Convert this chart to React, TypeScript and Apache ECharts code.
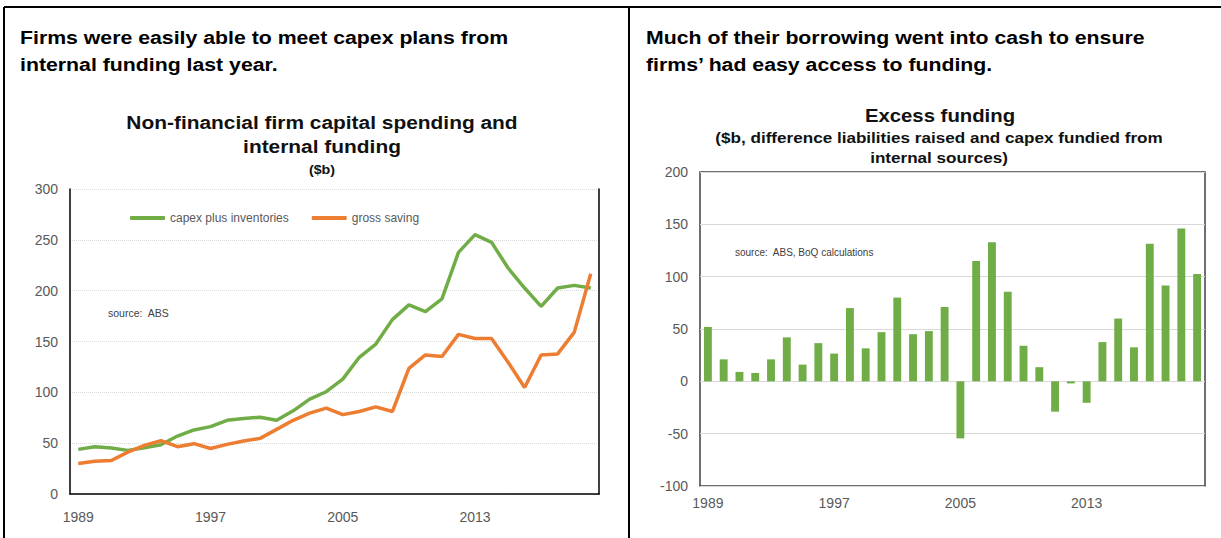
import React, { useEffect, useRef } from "react";
import * as echarts from "echarts";

const years = [
  "1989", "1990", "1991", "1992", "1993", "1994", "1995", "1996",
  "1997", "1998", "1999", "2000", "2001", "2002", "2003", "2004",
  "2005", "2006", "2007", "2008", "2009", "2010", "2011", "2012",
  "2013", "2014", "2015", "2016", "2017", "2018", "2019", "2020",
];

const capexPlusInventories = [
  43.9, 46.5, 45.2, 42.9, 45.5, 48.5, 57, 63,
  66.3, 72.5, 74.2, 75.5, 72.5, 81.8, 93.3, 100.6,
  113, 134.5, 147.5, 171.5, 186, 179.3, 192, 237.7,
  255.1, 247.5, 222.3, 202.6, 184.6, 202.6, 205.2, 202.6,
];

const grossSaving = [
  30, 32.3, 33, 41.2, 47.8, 52.4, 46.5, 49.5,
  44.8, 48.8, 52.1, 54.7, 63.6, 72.5, 79.5, 84.4,
  78.1, 81.1, 85.7, 81.1, 123.6, 136.8, 135.2, 157,
  153, 153, 129.6, 104.8, 136.8, 137.8, 159, 216.7,
];

const excessFunding = [
  52, 21, 9, 8, 21, 42, 16, 36.5,
  26.5, 70, 31.5, 47, 80, 45, 48, 71,
  -54.5, 115, 133, 85.5, 34, 13.5, -29, -2,
  -20.5, 37.5, 60, 32.5, 131.5, 91.5, 146, 102.5,
];

const leftAxisRange = { min: 0, max: 300, interval: 50 };
const rightAxisRange = { min: -100, max: 200, interval: 50 };

const FONT = '"Liberation Sans", Arial, sans-serif';
const GREEN = "#70AD47";
const ORANGE = "#ED7D31";
const LABEL = "#595959";

export default function App() {
  const ref = useRef<HTMLDivElement>(null);

  useEffect(() => {
    if (!ref.current) return;
    const chart = echarts.init(ref.current, undefined, { renderer: "svg" });

    const tickLabel = { color: LABEL, fontSize: 14, fontFamily: FONT };
    const text = (
      t: string,
      x: number,
      y: number,
      font: string,
      align: string = "left",
      fill: string = "#000",
      scaleX: number = 1
    ) => ({
      type: "text",
      x,
      y,
      scaleX,
      silent: true,
      style: { text: t, font, fill, align, verticalAlign: "middle" },
    });
    const line = (x1: number, y1: number, x2: number, y2: number) => ({
      type: "line",
      silent: true,
      shape: { x1, y1, x2, y2 },
      style: { stroke: "#000", lineWidth: 2 },
    });

    chart.setOption({
      animation: false,
      backgroundColor: "#fff",
      textStyle: { fontFamily: FONT },
      grid: [
        { left: 70, top: 189, width: 529, height: 305, show: false },
        {
          left: 700,
          top: 172,
          width: 505,
          height: 314,
          show: true,
          borderColor: "#404040",
          borderWidth: 1.5,
        },
      ],
      legend: {
        data: ["capex plus inventories", "gross saving"],
        left: 125,
        top: 207,
        itemWidth: 35,
        itemHeight: 4,
        itemGap: 23,
        icon: "roundRect",
        textStyle: { color: LABEL, fontSize: 12, fontFamily: FONT },
      },
      xAxis: [
        {
          type: "category",
          gridIndex: 0,
          data: years,
          boundaryGap: true,
          axisLine: { show: false },
          axisTick: { show: false },
          axisLabel: { ...tickLabel, interval: 7, margin: 16 },
          splitLine: { show: false },
        },
        {
          type: "category",
          gridIndex: 0,
          position: "top",
          data: years,
          axisLine: { show: true, lineStyle: { color: "#000", width: 1.5 } },
          axisTick: { show: false },
          axisLabel: { show: false },
          splitLine: { show: false },
        },
        {
          type: "category",
          gridIndex: 1,
          data: years,
          boundaryGap: true,
          axisLine: { show: false, onZero: false },
          axisTick: { show: false },
          axisLabel: { ...tickLabel, interval: 7, margin: 10 },
          splitLine: { show: false },
        },
      ],
      yAxis: [
        {
          type: "value",
          gridIndex: 0,
          ...leftAxisRange,
          axisLine: { show: true, lineStyle: { color: "#000", width: 1.5 } },
          axisTick: { show: false },
          axisLabel: { ...tickLabel, margin: 12 },
          splitLine: { lineStyle: { color: "#d9d9d9", type: "dotted", width: 1 } },
        },
        {
          type: "value",
          gridIndex: 0,
          position: "right",
          ...leftAxisRange,
          axisLine: { show: true, lineStyle: { color: "#000", width: 1.5 } },
          axisTick: { show: false },
          axisLabel: { show: false },
          splitLine: { show: false },
        },
        {
          type: "value",
          gridIndex: 1,
          ...rightAxisRange,
          axisLine: { show: false },
          axisTick: { show: false },
          axisLabel: { ...tickLabel, margin: 12 },
          splitLine: { lineStyle: { color: "#d9d9d9", width: 1 } },
        },
      ],
      series: [
        {
          name: "capex plus inventories",
          type: "line",
          xAxisIndex: 0,
          yAxisIndex: 0,
          data: capexPlusInventories,
          symbol: "none",
          color: GREEN,
          lineStyle: { color: GREEN, width: 3.5 },
        },
        {
          name: "gross saving",
          type: "line",
          xAxisIndex: 0,
          yAxisIndex: 0,
          data: grossSaving,
          symbol: "none",
          color: ORANGE,
          lineStyle: { color: ORANGE, width: 3.5 },
        },
        {
          name: "excess funding",
          type: "bar",
          xAxisIndex: 2,
          yAxisIndex: 2,
          data: excessFunding,
          barWidth: "50%",
          itemStyle: { color: GREEN },
        },
      ],
      graphic: [
        line(4, 7, 1221, 7),
        line(4, 7, 4, 538),
        line(629, 7, 629, 538),
        text("Firms were easily able to meet capex plans from", 20, 37, `bold 19px ${FONT}`, "left", "#000", 1.12),
        text("internal funding last year.", 20, 64, `bold 19px ${FONT}`, "left", "#000", 1.12),
        text("Much of their borrowing went into cash to ensure", 646, 37, `bold 19px ${FONT}`, "left", "#000", 1.12),
        text("firms\u2019 had easy access to funding.", 646, 64, `bold 19px ${FONT}`, "left", "#000", 1.12),
        text("Non-financial firm capital spending and", 322, 122, `bold 19px ${FONT}`, "center", "#111", 1.1),
        text("internal funding", 322, 146, `bold 19px ${FONT}`, "center", "#111", 1.1),
        text("($b)", 322, 170, `bold 13px ${FONT}`, "center", "#111", 1.1),
        text("Excess funding", 940, 116, `bold 18px ${FONT}`, "center", "#111", 1.13),
        text("($b, difference liabilities raised and capex fundied from", 939, 137, `bold 15px ${FONT}`, "center", "#111", 1.14),
        text("internal sources)", 939, 157, `bold 15px ${FONT}`, "center", "#111", 1.14),
        text("source:  ABS", 108, 313, `10.5px ${FONT}`, "left", "#404040"),
        text("source:  ABS, BoQ calculations", 735, 252, `10px ${FONT}`, "left", "#404040"),
      ],
    });

    return () => chart.dispose();
  }, []);

  return (
    <div
      ref={ref}
      style={{
        position: "fixed",
        left: 0,
        top: 0,
        width: 1221,
        height: 538,
        background: "#fff",
      }}
    />
  );
}
